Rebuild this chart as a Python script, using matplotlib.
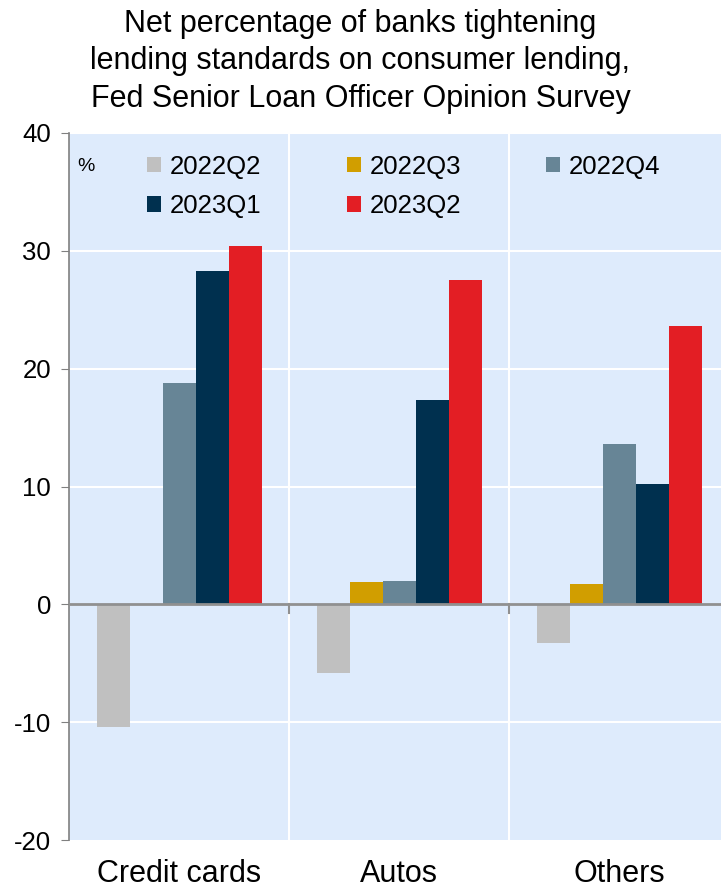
import matplotlib.pyplot as plt
import numpy as np

plt.rcParams['font.family'] = ['Liberation Sans', 'DejaVu Sans']

categories = ["Credit cards", "Autos", "Others"]
quarters = ["2022Q2", "2022Q3", "2022Q4", "2023Q1", "2023Q2"]
q2022_2 = [-10.4, -5.8, -3.3]
q2022_3 = [0.0, 1.9, 1.7]
q2022_4 = [18.8, 2.0, 13.6]
q2023_1 = [28.3, 17.3, 10.2]
q2023_2 = [30.4, 27.5, 23.6]
colors = ["#c0c0c0", "#d19e00", "#678596", "#00304f", "#e31e24"]

series = [q2022_2, q2022_3, q2022_4, q2023_1, q2023_2]

fig = plt.figure(figsize=(7.21, 8.9), dpi=100)
ax = fig.add_axes([69 / 721, 50 / 890, 660 / 721, 707 / 890])
ax.set_facecolor("#deebfc")

x = np.arange(len(categories))
width = 0.15
bars = []
for i, (vals, name, col) in enumerate(zip(series, quarters, colors)):
    bars.append(ax.bar(x + (i - 2) * width, vals, width, color=col, label=name, zorder=3))

ax.set_xlim(-0.5, 2.5)
ax.set_ylim(-20, 40)
ax.set_yticks(range(-20, 41, 10))
ax.set_yticklabels([str(v) for v in range(-20, 41, 10)], fontsize=18.5)
ax.set_xticks(x)
ax.set_xticklabels(categories, fontsize=22)
ax.tick_params(axis="x", length=0, pad=14)
ax.tick_params(axis="y", length=6, color="#808080", pad=7)

for s in ["top", "right", "bottom"]:
    ax.spines[s].set_visible(False)
ax.spines["left"].set_color("#808080")
ax.spines["left"].set_linewidth(1.2)

# white grid and group separators
for yv in range(-10, 41, 10):
    if yv != 0:
        ax.axhline(yv, color="white", lw=1.5, zorder=1)
for xv in [0.5, 1.5]:
    ax.axvline(xv, color="white", lw=1.5, zorder=1)
    ax.plot([xv, xv], [0, -0.7], color="#909090", lw=1.5, zorder=4)
ax.axhline(0, color="#909090", lw=2, zorder=4)

ax.text(0.013, 0.965, "%", transform=ax.transAxes, fontsize=14, va="top", ha="left")

# legend filled row by row like the original
order = [0, 3, 1, 4, 2]
ax.legend([bars[i] for i in order], [quarters[i] for i in order],
          loc="upper left", bbox_to_anchor=(0.091, 0.995), ncol=3, frameon=False,
          fontsize=18.5, handlelength=0.55, handleheight=0.55, handletextpad=0.35,
          columnspacing=3.3, labelspacing=0.6, borderaxespad=0.3)

fig.suptitle("Net percentage of banks tightening\nlending standards on consumer lending,\nFed Senior Loan Officer Opinion Survey",
             fontsize=22, y=0.99, va="top", linespacing=1.32)

fig.savefig("out.png", dpi=100)
